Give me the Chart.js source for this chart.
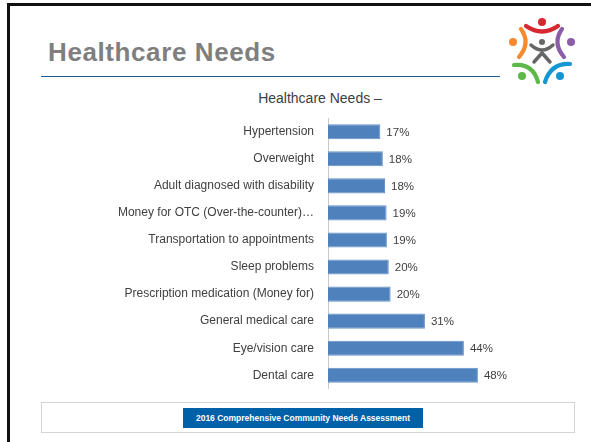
<!DOCTYPE html>
<html>
<head>
<meta charset="utf-8">
<script src="https://cdn.jsdelivr.net/npm/chart.js@4/dist/chart.umd.min.js"></script>
<style>
  html, body { margin: 0; padding: 0; background: #fff; }
  body { width: 591px; height: 442px; position: relative; overflow: hidden; font-family: "Liberation Sans", Arial, sans-serif; }
  .frame { position: absolute; left: 7px; top: 3px; width: 640px; height: 500px; border-top: 3px solid #111; border-left: 3px solid #111; }
  .slide-title { position: absolute; left: 48px; top: 37px; font-size: 26px; font-weight: bold; color: #7f7f7f; letter-spacing: 0.6px; white-space: nowrap; }
  .rule { position: absolute; left: 41px; top: 76px; width: 459px; height: 0; border-top: 1.5px solid #1f5b94; }
  .chart-title { position: absolute; left: 220px; width: 200px; top: 90px; text-align: center; font-size: 14px; color: #404040; white-space: nowrap; }
  #needsChart { position: absolute; left: 0; top: 105px; }
  .footer { position: absolute; left: 41px; top: 402px; width: 532px; height: 29px; border: 1px solid #d4d4d4; }
  .footer span { position: absolute; left: 141px; top: 5px; width: 240px; height: 20px; background: #0060a8; color: #fff; font-size: 8.5px; font-weight: bold; line-height: 20px; text-align: center; white-space: nowrap; }
  svg.logo { position: absolute; left: 505px; top: 14px; }
</style>
</head>
<body>
<div class="frame"></div>
<div class="slide-title">Healthcare Needs</div>
<div class="rule"></div>
<svg class="logo" width="75" height="75" viewBox="505 14 75 75">
  <g fill="none" stroke-width="4.2" stroke-linecap="round">
    <path d="M526 26 Q542 37 558 26" stroke="#d7282f"/>
    <path d="M521 29 Q531 43 519 57" stroke="#f58a32"/>
    <path d="M562 29 Q552 43 564 57" stroke="#8b5ca8"/>
    <path d="M514 65 Q533 63 538 82" stroke="#5cb848"/>
    <path d="M545 82 Q551 63 570 64" stroke="#1496d3"/>
    <path d="M531 45 Q542 55 553 45" stroke="#666" stroke-width="3.5"/>
    <path d="M534 62 L542 53 L550 62" stroke="#666" stroke-width="3.5"/>
  </g>
  <circle cx="542" cy="22" r="4" fill="#d7282f"/>
  <circle cx="513" cy="42" r="4" fill="#f58a32"/>
  <circle cx="571" cy="42" r="4" fill="#8b5ca8"/>
  <circle cx="542" cy="42" r="3" fill="#666"/>
  <circle cx="522" cy="76" r="4" fill="#5cb848"/>
  <circle cx="560" cy="76" r="4" fill="#1496d3"/>
</svg>
<div class="chart-title">Healthcare Needs &ndash;</div>
<canvas id="needsChart" width="591" height="297"></canvas>
<div class="footer"><span>2016 Comprehensive Community Needs Assessment</span></div>

<script>
const categories = [
    'Hypertension',
    'Overweight',
    'Adult diagnosed with disability',
    'Money for OTC (Over-the-counter)…',
    'Transportation to appointments',
    'Sleep problems',
    'Prescription medication (Money for)',
    'General medical care',
    'Eye/vision care',
    'Dental care'
];
const percentages = [16.8, 17.6, 18.3, 18.8, 18.9, 19.5, 20.1, 31.1, 43.6, 48.1];

// draws the "17%" style labels just past the end of each bar
const barLabels = {
    id: 'barLabels',
    afterDatasetsDraw(chart) {
        const ctx = chart.ctx;
        const meta = chart.getDatasetMeta(0);
        ctx.save();
        ctx.font = '11.5px "Liberation Sans", Arial, sans-serif';
        ctx.fillStyle = '#404040';
        ctx.textBaseline = 'middle';
        meta.data.forEach((bar, i) => {
            ctx.fillText(Math.round(percentages[i]) + '%', bar.x + 6, bar.y + 1);
        });
        ctx.restore();
    }
};

const ctx = document.getElementById('needsChart').getContext('2d');

const chart = new Chart(ctx, {
    type: 'bar',
    data: {
        labels: categories,
        datasets: [{
            data: percentages,
            backgroundColor: '#4f81bd',
            borderColor: '#6790c6',
            borderWidth: 1,
            borderSkipped: 'left',
            categoryPercentage: 1,
            barPercentage: 0.56
        }]
    },
    options: {
        indexAxis: 'y',
        animation: false,
        responsive: false,
        layout: { padding: { left: 0, right: 76, top: 0, bottom: 0 } },
        plugins: {
            legend: { display: false },
            tooltip: { enabled: false }
        },
        scales: {
            x: {
                display: false,
                min: 0,
                max: 60
            },
            y: {
                grid: { display: false },
                border: { display: true, color: '#c8c8c8', width: 1 },
                ticks: {
                    color: '#404040',
                    padding: 6,
                    font: { family: '"Liberation Sans", Arial, sans-serif', size: 12 }
                },
                afterFit(scale) { scale.width = 328; }
            }
        }
    },
    plugins: [barLabels]
});
</script>
</body>
</html>
